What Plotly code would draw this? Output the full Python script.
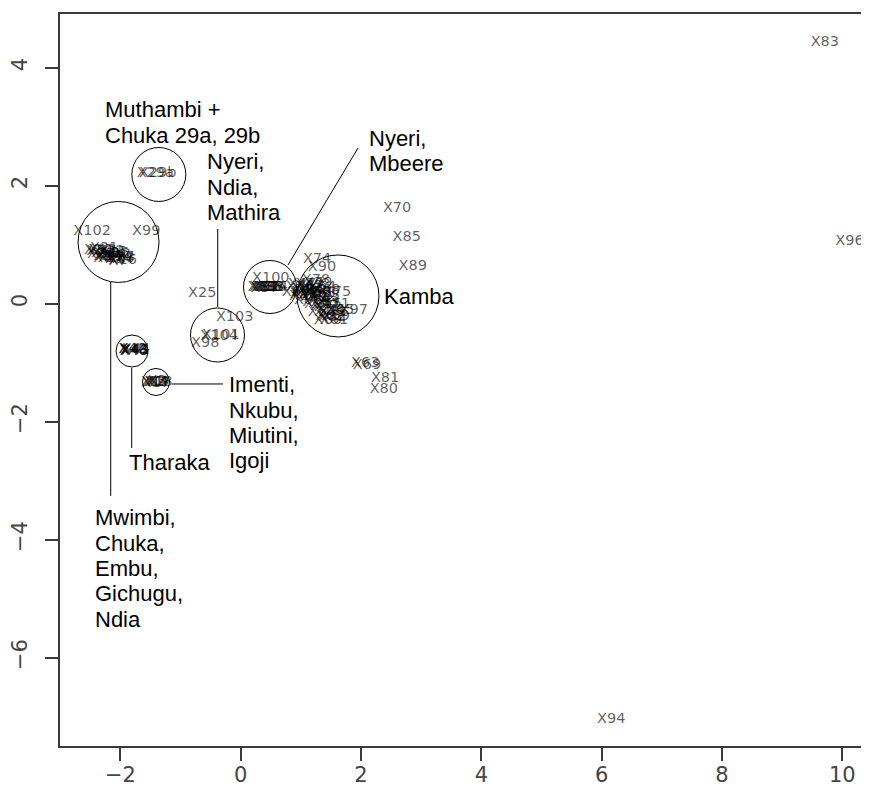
import plotly.graph_objects as go

# ---------------- data (MDS coordinates) ----------------
labels = [
    "X83", "X96", "X70", "X85", "X89", "X74", "X90", "X100", "X75", "X97",
    "X99", "X102", "X25", "X103", "X104", "X101", "X98", "X69", "X63", "X81",
    "X80", "X94",
    "X29a", "X29b",
    "X20", "X21", "X22", "X23", "X24", "X26", "X27", "X28", "X5", "X6",
    "X7", "X8", "X16", "X9", "X10", "X11", "X12", "X13", "X14", "X15",
    "X42", "X43", "X44", "X45", "X40", "X41", "X46",
    "X1", "X3", "X4", "X17", "X2", "X18", "X19",
    "X30", "X32", "X33", "X34", "X31", "X35", "X36", "X37", "X38",
    "X76", "X77", "X78", "X79", "X84", "X86", "X87", "X88", "X91", "X92",
    "X93", "X95", "X71", "X72", "X73", "X82", "X62", "X64", "X65", "X66",
    "X67", "X68", "X47", "X48", "X49", "X50", "X51", "X52", "X53", "X54",
    "X55", "X56", "X57", "X58", "X59", "X60", "X61",
]
x_vals = [
    9.71, 10.12, 2.60, 2.76, 2.86, 1.27, 1.35, 0.50, 1.60, 1.88,
    -1.57, -2.47, -0.64, -0.10, -0.36, -0.33, -0.59, 2.10, 2.07, 2.40,
    2.38, 6.16,
    -1.42, -1.38,
    -2.37, -2.27, -2.17, -2.32, -2.21, -2.09, -2.00, -2.14, -2.41, -2.29,
    -2.04, -1.92, -1.96, -2.11, -2.25, -2.18, -2.06, -2.30, -2.02, -2.13,
    -1.80, -1.77, -1.74, -1.76, -1.79, -1.75, -1.78,
    -1.43, -1.39, -1.36, -1.41, -1.40, -1.37, -1.42,
    0.35, 0.42, 0.49, 0.55, 0.38, 0.45, 0.52, 0.40, 0.47,
    0.99, 1.07, 1.25, 1.29, 1.15, 1.20, 1.04, 1.12, 1.32, 1.35,
    1.40, 1.29, 1.58, 1.45, 1.53, 1.52, 1.48, 1.35, 1.65, 0.92,
    1.14, 1.42, 1.02, 1.09, 1.15, 1.19, 1.05, 1.22, 1.28, 1.35,
    1.42, 1.26, 1.39, 1.48, 1.58, 1.45, 1.55,
]
y_vals = [
    4.43, 1.05, 1.62, 1.13, 0.64, 0.75, 0.62, 0.43, 0.20, -0.12,
    1.22, 1.22, 0.18, -0.24, -0.55, -0.53, -0.67, -1.04, -1.02, -1.26,
    -1.46, -7.04,
    2.21, 2.21,
    0.91, 0.94, 0.89, 0.83, 0.81, 0.86, 0.79, 0.76, 0.88, 0.76,
    0.72, 0.77, 0.74, 0.79, 0.86, 0.80, 0.83, 0.90, 0.75, 0.87,
    -0.78, -0.79, -0.77, -0.80, -0.78, -0.79, -0.80,
    -1.33, -1.32, -1.34, -1.35, -1.33, -1.33, -1.34,
    0.27, 0.27, 0.27, 0.28, 0.28, 0.27, 0.27, 0.26, 0.28,
    0.27, 0.20, 0.39, 0.35, 0.23, 0.15, 0.13, 0.06, 0.18, 0.10,
    0.03, -0.01, -0.01, -0.07, -0.14, -0.24, -0.21, -0.14, -0.11, 0.20,
    0.30, 0.23, 0.32, 0.25, 0.33, 0.23, 0.16, 0.10, 0.20, 0.28,
    0.13, 0.03, -0.04, -0.11, -0.21, -0.28, -0.28,
]

x_ticks = [-2, 0, 2, 4, 6, 8, 10]
y_ticks = [-6, -4, -2, 0, 2, 4]

# group annotations: circle centre (data), circle radius (px)
group_names = ["Muthambi + Chuka 29a, 29b", "Mwimbi, Chuka, Embu, Gichugu, Ndia",
               "Nyeri, Ndia, Mathira", "Nyeri, Mbeere", "Kamba", "Tharaka",
               "Imenti, Nkubu, Miutini, Igoji"]
circle_cx = [-1.361, -2.031, -0.386, 0.487, 1.617, -1.807, -1.408]
circle_cy = [2.19, 1.046, -0.531, 0.283, 0.131, -0.802, -1.327]
circle_r_px = [27, 40.5, 27, 26.5, 41, 16, 13.5]

# text blocks: lines, left x, centre y of first line (data)
text_lines = [
    ["Muthambi +", "Chuka 29a, 29b"],
    ["Mwimbi,", "Chuka,", "Embu,", "Gichugu,", "Ndia"],
    ["Nyeri,", "Ndia,", "Mathira"],
    ["Nyeri,", "Mbeere"],
    ["Kamba"],
    ["Tharaka"],
    ["Imenti,", "Nkubu,", "Miutini,", "Igoji"],
]
text_x = [-2.294, -2.460, -0.593, 2.099, 2.344, -1.890, -0.233]
text_y = [3.288, -3.632, 2.402, 2.808, 0.114, -2.700, -1.378]

# connector lines (data): x0, y0, x1, y1
conn = [
    (-2.161, 0.368, -2.161, -3.258),
    (-1.812, -1.090, -1.812, -2.446),
    (-1.147, -1.361, -0.294, -1.361),
    (-0.382, 1.266, -0.382, -0.056),
    (0.786, 0.656, 1.950, 2.639),
]

# ---------------- layout geometry ----------------
# the page body has an 8px margin, so the figure is made 8px smaller
W, H = 861, 788
ML, MR, MT, MB = 52, 0, 6, 50
x_range = [-3.004, 10.444]
y_range = [-7.497, 4.910]
px_per_x = (W - ML - MR) / (x_range[1] - x_range[0])
px_per_y = (H - MT - MB) / (y_range[1] - y_range[0])
LINE_PX = 25.3

fig = go.Figure()
fig.add_trace(go.Scatter(
    x=x_vals, y=y_vals, mode="text", text=labels,
    textposition="middle center",
    textfont=dict(family="DejaVu Sans", size=14.5, color="rgba(0,0,0,0.64)"),
    hoverinfo="text", showlegend=False, cliponaxis=False,
))

shapes = []
for cx, cy, r in zip(circle_cx, circle_cy, circle_r_px):
    rx, ry = r / px_per_x, r / px_per_y
    shapes.append(dict(type="circle", xref="x", yref="y",
                       x0=cx - rx, x1=cx + rx, y0=cy - ry, y1=cy + ry,
                       line=dict(color="black", width=1)))
for x0, y0, x1, y1 in conn:
    shapes.append(dict(type="line", xref="x", yref="y", x0=x0, y0=y0, x1=x1, y1=y1,
                       line=dict(color="black", width=1)))

annotations = []
for lines, tx, ty in zip(text_lines, text_x, text_y):
    for i, ln in enumerate(lines):
        annotations.append(dict(
            x=tx, y=ty - i * LINE_PX / px_per_y, xref="x", yref="y",
            text=ln, showarrow=False, xanchor="left", yanchor="middle",
            font=dict(family="Liberation Sans, Arial", size=22, color="black"),
        ))

axis_col = "#3a3a3a"
fig.update_layout(
    width=W, height=H,
    margin=dict(l=ML, r=MR, t=MT, b=MB, pad=0),
    paper_bgcolor="white", plot_bgcolor="white",
    shapes=shapes, annotations=annotations,
    xaxis=dict(range=x_range, tickvals=x_ticks, showgrid=False, zeroline=False,
               showline=True, linecolor=axis_col, linewidth=1.5, mirror=True,
               ticks="outside", ticklen=13, tickwidth=1.5, tickcolor=axis_col,
               ticklabelstandoff=-4,
               tickfont=dict(family="DejaVu Sans", size=21, color="#444")),
    yaxis=dict(range=y_range, tickvals=y_ticks, showgrid=False, zeroline=False,
               showline=True, linecolor=axis_col, linewidth=1.5,
               ticks="outside", ticklen=13, tickwidth=1.5, tickcolor=axis_col,
               tickangle=-90, ticklabelstandoff=10,
               tickfont=dict(family="DejaVu Sans", size=21, color="#444")),
)

fig.write_html("out.html")
